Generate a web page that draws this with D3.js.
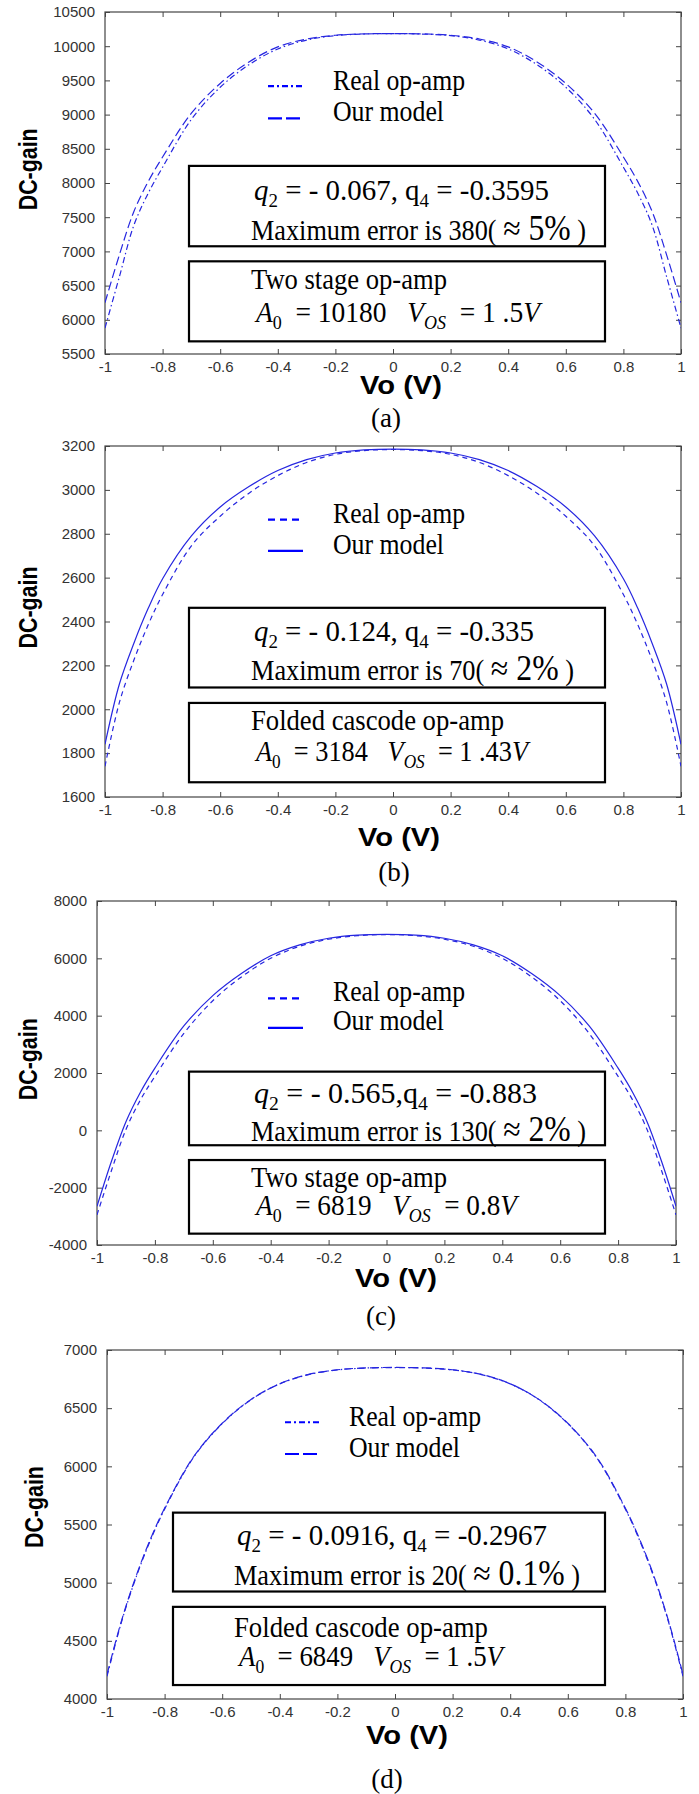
<!DOCTYPE html>
<html>
<head>
<meta charset="utf-8">
<script src="https://cdn.jsdelivr.net/npm/d3@7"></script>
<style>
  body { margin: 0; background: #fff; }
</style>
</head>
<body>
<div id="fig"></div>
<script>
// valores de Vo
const vo = [-1, -0.95, -0.9, -0.85, -0.8, -0.7, -0.6, -0.5, -0.4, -0.3, -0.2, -0.1, 0,
            0.1, 0.2, 0.3, 0.4, 0.5, 0.6, 0.7, 0.8, 0.85, 0.9, 0.95, 1];

// (a) two stage
const realA  = [5880, 6630, 7380, 7850, 8230, 8930, 9400, 9730, 9960, 10090, 10155, 10178, 10185,
                10178, 10155, 10090, 9960, 9730, 9400, 8930, 8230, 7850, 7380, 6630, 5880];
const modelA = [6250, 6950, 7580, 8020, 8380, 9020, 9455, 9770, 9990, 10105, 10160, 10180, 10185,
                10180, 10160, 10105, 9990, 9770, 9455, 9020, 8380, 8020, 7580, 6950, 6250];
// (b) folded cascode
const realB  = [1740, 2031, 2223, 2385, 2523, 2745, 2880, 2985, 3065, 3125, 3162, 3179, 3184,
                3179, 3162, 3125, 3065, 2985, 2880, 2745, 2523, 2385, 2223, 2031, 1740];
const modelB = [1840, 2115, 2300, 2460, 2595, 2790, 2922, 3015, 3088, 3138, 3168, 3182, 3186,
                3182, 3168, 3138, 3088, 3015, 2922, 2790, 2595, 2460, 2300, 2115, 1840];
// (c) two stage
const realC  = [-2950, -1400, 30, 1060, 1880, 3380, 4520, 5360, 6000, 6420, 6665, 6790, 6830,
                6790, 6665, 6420, 6000, 5360, 4520, 3380, 1880, 1060, 30, -1400, -2950];
const modelC = [-2650, -1080, 300, 1330, 2170, 3640, 4700, 5480, 6090, 6470, 6700, 6810, 6835,
                6810, 6700, 6470, 6090, 5480, 4700, 3640, 2170, 1330, 300, -1080, -2650];
// (d) folded cascode
const realD  = [4195, 4660, 5040, 5360, 5632, 6075, 6367, 6573, 6709, 6789, 6829, 6845, 6849,
                6845, 6829, 6789, 6709, 6573, 6367, 6075, 5632, 5360, 5040, 4660, 4195];
const modelD = [4210, 4670, 5050, 5370, 5640, 6080, 6370, 6575, 6710, 6790, 6830, 6846, 6850,
                6846, 6830, 6790, 6710, 6575, 6370, 6080, 5640, 5370, 5050, 4670, 4210];

// etiquetas de los ejes
const xTicks  = [-1, -0.8, -0.6, -0.4, -0.2, 0, 0.2, 0.4, 0.6, 0.8, 1];
const yTicksA = [5500, 6000, 6500, 7000, 7500, 8000, 8500, 9000, 9500, 10000, 10500];
const yTicksB = [1600, 1800, 2000, 2200, 2400, 2600, 2800, 3000, 3200];
const yTicksC = [-4000, -2000, 0, 2000, 4000, 6000, 8000];
const yTicksD = [4000, 4500, 5000, 5500, 6000, 6500, 7000];

const seriesNames = ["Real op-amp", "Our model"];
const tags = ["(a)", "(b)", "(c)", "(d)"];

const blue = "#2626e0";

// estilos de linea: a y d usan punto-raya / rayas, b y c rayas / continua
const dashStyles = {
  dd: { real: "6,3,1.5,3", model: "9,4", legReal: "6,3,2,3", legModel: "14,4" },
  ds: { real: "5,4", model: null, legReal: "7,5", legModel: null }
};

// trozos de texto de los recuadros (espacios duros para que no se junten)
const sp = s => s.replace(/ /g, "\u00A0");
const sub = (t, it) => ({ t, sub: true, it });
const it = t => ({ t, it: true });
const big = t => ({ t: sp(t), big: true });
const tx = t => ({ t: sp(t) });

// posiciones verticales como fraccion del area del grafico (0 = arriba, 1 = abajo)
const panels = [
  { tag: 0, L: 105, R: 681, T: 12, B: 354, ticks: yTicksA, real: realA, model: modelA, st: "dd",
    voB: 394, tagB: 427, voX: 401, tagX: 386, dcX: 37, dcF: 0.46,
    leg: { x1: 268, x2: 303, tx: 333, s: [0.217, 0.311], b: [0.228, 0.320], w: [132, 111] },
    boxes: { x: 189, w: 416, f: [[0.450, 0.685], [0.729, 0.963]] },
    lines: [
      { x: 254, f: 0.550, w: 295, p: [it("q"), sub("2"), tx(" = - 0.067, q"), sub("4"), tx(" = -0.3595")] },
      { x: 251, f: 0.667, w: 335, p: [tx("Maximum error is 380( "), big("≈ 5%"), tx(" )")] },
      { x: 251, f: 0.811, w: 196, p: [tx("Two stage op-amp")] },
      { x: 256, f: 0.905, w: 284, p: [it("A"), sub("0"), tx("  = 10180   "), it("V"), sub("OS", true), tx("  = 1 .5"), it("V")] }
    ] },
  { tag: 1, L: 105, R: 681, T: 446, B: 797, ticks: yTicksB, real: realB, model: modelB, st: "ds",
    voB: 846, tagB: 881, voX: 399, tagX: 394, dcX: 37, dcF: 0.46,
    leg: { x1: 268, x2: 303, tx: 333, s: [0.210, 0.299], b: [0.220, 0.309], w: [132, 111] },
    boxes: { x: 189, w: 416, f: [[0.461, 0.688], [0.732, 0.958]] },
    lines: [
      { x: 254, f: 0.555, w: 280, p: [it("q"), sub("2"), tx(" = - 0.124, q"), sub("4"), tx(" = -0.335")] },
      { x: 251, f: 0.668, w: 323, p: [tx("Maximum error is 70( "), big("≈ 2%"), tx(" )")] },
      { x: 251, f: 0.810, w: 253, p: [tx("Folded cascode op-amp")] },
      { x: 256, f: 0.898, w: 272, p: [it("A"), sub("0"), tx("  = 3184   "), it("V"), sub("OS", true), tx("  = 1 .43"), it("V")] }
    ] },
  { tag: 2, L: 97, R: 676, T: 901, B: 1245, ticks: yTicksC, real: realC, model: modelC, st: "ds",
    voB: 1287, tagB: 1325, voX: 396, tagX: 381, dcX: 37, dcF: 0.46,
    leg: { x1: 268, x2: 303, tx: 333, s: [0.283, 0.369], b: [0.291, 0.376], w: [132, 111] },
    boxes: { x: 189, w: 416, f: [[0.496, 0.710], [0.753, 0.967]] },
    lines: [
      { x: 254, f: 0.587, w: 283, p: [it("q"), sub("2"), tx(" = - 0.565,q"), sub("4"), tx(" = -0.883")] },
      { x: 251, f: 0.699, w: 335, p: [tx("Maximum error is 130( "), big("≈ 2%"), tx(" )")] },
      { x: 251, f: 0.832, w: 196, p: [tx("Two stage op-amp")] },
      { x: 256, f: 0.913, w: 261, p: [it("A"), sub("0"), tx("  = 6819   "), it("V"), sub("OS", true), tx("  = 0.8"), it("V")] }
    ] },
  { tag: 3, L: 107, R: 683, T: 1350, B: 1699, ticks: yTicksD, real: realD, model: modelD, st: "dd",
    voB: 1744, tagB: 1788, voX: 407, tagX: 387, dcX: 43, dcF: 0.45,
    leg: { x1: 285, x2: 319, tx: 349, s: [0.207, 0.298], b: [0.217, 0.306], w: [132, 111] },
    boxes: { x: 173, w: 432, f: [[0.466, 0.692], [0.736, 0.960]] },
    lines: [
      { x: 237, f: 0.560, w: 310, p: [it("q"), sub("2"), tx(" = - 0.0916, q"), sub("4"), tx(" = -0.2967")] },
      { x: 234, f: 0.672, w: 346, p: [tx("Maximum error is 20( "), big("≈ 0.1%"), tx(" )")] },
      { x: 234, f: 0.821, w: 254, p: [tx("Folded cascode op-amp")] },
      { x: 239, f: 0.906, w: 264, p: [it("A"), sub("0"), tx("  = 6849   "), it("V"), sub("OS", true), tx("  = 1 .5"), it("V")] }
    ] }
];

const svg = d3.select("#fig").append("svg")
  .attr("width", 699)
  .attr("height", 1794)
  .style("display", "block");

const serif = "'Liberation Serif', 'Times New Roman', Times, serif";
const sans = "'Liberation Sans', Arial, sans-serif";

// escribe una linea con subindices; textLength ajusta el ancho a la figura
const drawText = (g, ln, yb) => {
  const t = g.append("text")
    .attr("x", ln.x).attr("y", yb)
    .attr("font-family", serif)
    .attr("font-size", 29)
    .attr("fill", "#000")
    .attr("textLength", ln.w)
    .attr("lengthAdjust", "spacingAndGlyphs");
  let back = 0;
  ln.p.forEach(part => {
    const s = t.append("tspan").text(part.t);
    if (back) { s.attr("dy", back); back = 0; }
    if (part.it) s.attr("font-style", "italic");
    if (part.big) s.attr("font-size", 35);
    if (part.sub) {
      s.attr("font-size", 19).attr("dy", 7);
      back = -7;
    }
  });
};

panels.forEach(p => {
  const g = svg.append("g");
  const x = d3.scaleLinear().domain([-1, 1]).range([p.L, p.R]);
  const y = d3.scaleLinear().domain(d3.extent(p.ticks)).range([p.B, p.T]);
  const fy = f => p.T + f * (p.B - p.T);

  const clipId = "clip" + p.tag;
  g.append("clipPath").attr("id", clipId)
    .append("rect").attr("x", p.L).attr("y", p.T).attr("width", p.R - p.L).attr("height", p.B - p.T);

  // ejes con marcas hacia dentro (estilo matlab)
  const fmt = d => String(d);
  const axB = g.append("g").attr("transform", `translate(0,${p.B})`)
    .call(d3.axisBottom(x).tickValues(xTicks).tickSize(-5).tickPadding(9).tickFormat(fmt));
  const axL = g.append("g").attr("transform", `translate(${p.L},0)`)
    .call(d3.axisLeft(y).tickValues(p.ticks).tickSize(-5).tickPadding(10).tickFormat(fmt));
  const axT = g.append("g").attr("transform", `translate(0,${p.T})`)
    .call(d3.axisTop(x).tickValues(xTicks).tickSize(-5).tickFormat(""));
  const axR = g.append("g").attr("transform", `translate(${p.R},0)`)
    .call(d3.axisRight(y).tickValues(p.ticks).tickSize(-5).tickFormat(""));
  [axB, axL, axT, axR].forEach(a => {
    a.select(".domain").remove();
    a.selectAll("line").attr("stroke", "#444");
    a.selectAll("text").attr("font-size", 15).attr("font-family", sans).attr("fill", "#333");
  });
  axB.selectAll("text").attr("dy", "0.6em");

  g.append("rect")
    .attr("x", p.L).attr("y", p.T)
    .attr("width", p.R - p.L).attr("height", p.B - p.T)
    .attr("fill", "none").attr("stroke", "#444").attr("stroke-width", 1.2);

  // curvas
  const line = d3.line()
    .x((d, i) => x(vo[i]))
    .y(d => y(d))
    .curve(d3.curveCatmullRom.alpha(0.5));

  const ds = dashStyles[p.st];
  const curves = g.append("g").attr("clip-path", `url(#${clipId})`);
  curves.append("path").datum(p.real)
    .attr("d", line).attr("fill", "none").attr("stroke", blue).attr("stroke-width", 1.2)
    .attr("stroke-dasharray", ds.real);
  curves.append("path").datum(p.model)
    .attr("d", line).attr("fill", "none").attr("stroke", blue).attr("stroke-width", 1.2)
    .attr("stroke-dasharray", ds.model);

  // leyenda
  const lg = p.leg;
  [ds.legReal, ds.legModel].forEach((dash, i) => {
    g.append("line")
      .attr("x1", lg.x1).attr("x2", lg.x2)
      .attr("y1", fy(lg.s[i])).attr("y2", fy(lg.s[i]))
      .attr("stroke", "#0000ff").attr("stroke-width", 2.2)
      .attr("stroke-dasharray", dash);
    g.append("text")
      .attr("x", lg.tx).attr("y", fy(lg.b[i]))
      .attr("font-family", serif).attr("font-size", 30)
      .attr("textLength", lg.w[i]).attr("lengthAdjust", "spacingAndGlyphs")
      .text(seriesNames[i]);
  });

  // recuadros con los parametros
  p.boxes.f.forEach(([f0, f1]) => {
    g.append("rect")
      .attr("x", p.boxes.x).attr("y", fy(f0))
      .attr("width", p.boxes.w).attr("height", fy(f1) - fy(f0))
      .attr("fill", "#fff").attr("stroke", "#000").attr("stroke-width", 2.2);
  });
  p.lines.forEach(ln => drawText(g, ln, fy(ln.f)));

  // titulos de ejes
  g.append("text")
    .attr("transform", `translate(${p.dcX},${fy(p.dcF)}) rotate(-90)`)
    .attr("text-anchor", "middle")
    .attr("font-family", sans).attr("font-weight", "bold").attr("font-size", 26)
    .attr("textLength", 82).attr("lengthAdjust", "spacingAndGlyphs")
    .text("DC-gain");
  g.append("text")
    .attr("x", p.voX).attr("y", p.voB)
    .attr("text-anchor", "middle")
    .attr("font-family", sans).attr("font-weight", "bold").attr("font-size", 25)
    .attr("textLength", 82).attr("lengthAdjust", "spacingAndGlyphs")
    .text("Vo (V)");
  g.append("text")
    .attr("x", p.tagX).attr("y", p.tagB)
    .attr("text-anchor", "middle")
    .attr("font-family", serif).attr("font-size", 27)
    .text(tags[p.tag]);
});
</script>
</body>
</html>
